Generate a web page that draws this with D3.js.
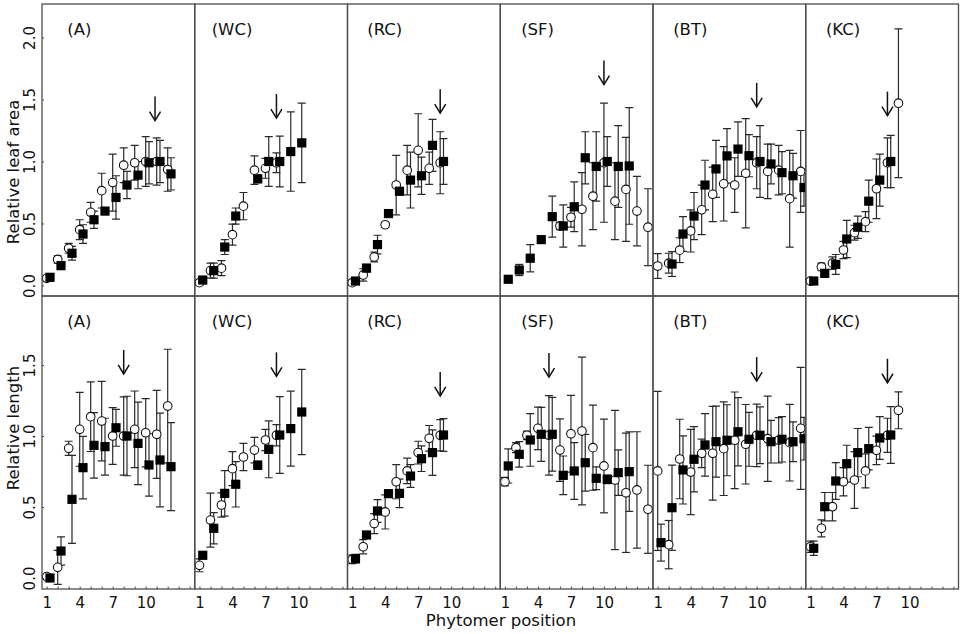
<!DOCTYPE html>
<html><head><meta charset="utf-8">
<script src="https://cdn.jsdelivr.net/npm/d3@7"></script>
<style>
body{margin:0;background:#fff}
svg{display:block;font-family:"DejaVu Sans",Verdana,sans-serif}
</style>
</head><body>
<svg id="chart" width="964" height="634"></svg>
<script>
// ---------- DATA ----------
const panelNames = ["(A)", "(WC)", "(RC)", "(SF)", "(BT)", "(KC)"];
const xTickLabels = [1, 4, 7, 10];
const xTickMarks = [1,2,3,4,5,6,7,8,9,10,11,12,13,14];
const areaTicks = [0, 0.5, 1.0, 1.5, 2.0];
const lengthTicks = [0, 0.5, 1.0, 1.5];
const areaTitle = "Relative leaf area";
const lengthTitle = "Relative length";
const xTitle = "Phytomer position";

// each entry: [phytomer position, mean, sd]
// --- relative leaf area (top row) ---
const areaA_open = [[1,0.058,0.02],[2,0.21,0.03],[3,0.30,0.04],[4,0.45,0.08],[5,0.59,0.08],[6,0.765,0.14],[7,0.83,0.23],[8,0.97,0.14],[9,0.99,0.14],[10,1.0,0.2],[11,1.0,0.19],[12,0.935,0.175]];
const areaA_fill = [[1,0.066,0.02],[2,0.16,0.03],[3,0.26,0.055],[4,0.415,0.075],[5,0.53,0.07],[6,0.60,0.02],[7,0.71,0.175],[8,0.81,0.11],[9,0.89,0.11],[10,0.99,0.17],[11,1.0,0.17],[12,0.90,0.13]];
const areaWC_open = [[1,0.023,0.02],[2,0.12,0.06],[3,0.14,0.06],[4,0.41,0.085],[5,0.64,0.11],[6,0.93,0.115],[7,0.945,0.08],[8,0.99,0.08]];
const areaWC_fill = [[1,0.044,0.02],[2,0.12,0.06],[3,0.31,0.06],[4,0.56,0.065],[6,0.86,0.03],[7,1.0,0.2],[8,1.0,0.205],[9,1.08,0.32],[10,1.15,0.32]];
const areaRC_open = [[1,0.023,0.02],[2,0.085,0.05],[3,0.23,0.04],[4,0.49,0.02],[5,0.81,0.24],[6,0.93,0.2],[7,1.09,0.295],[8,0.945,0.13],[9,0.99,0.25]];
const areaRC_fill = [[1,0.036,0.02],[2,0.14,0.03],[3,0.33,0.075],[4,0.58,0.02],[5,0.76,0.03],[6,0.85,0.225],[7,0.885,0.15],[8,1.13,0.21],[9,1.0,0.185]];
const areaSF_open = [[6,0.48,0.03],[7,0.55,0.08],[8,0.615,0.295],[9,0.72,0.27],[10,0.99,0.48],[11,0.68,0.31],[12,0.775,0.42],[13,0.60,0.28],[14,0.47,0.31]];
const areaSF_fill = [[1,0.05,0.01],[2,0.125,0.045],[3,0.22,0.11],[4,0.37,0.02],[5,0.555,0.165],[6,0.48,0.17],[7,0.635,0.2],[8,1.03,0.21],[9,0.96,0.28],[10,1.0,0.2],[11,0.96,0.33],[12,0.964,0.47]];
const areaBT_open = [[1,0.157,0.1],[2,0.18,0.08],[3,0.285,0.1],[4,0.44,0.17],[5,0.61,0.2],[6,0.735,0.22],[7,0.82,0.3],[8,0.81,0.22],[9,0.905,0.44],[10,0.99,0.21],[11,0.92,0.22],[12,0.93,0.2],[13,0.70,0.39],[14,0.92,0.33]];
const areaBT_fill = [[2,0.173,0.1],[3,0.415,0.14],[4,0.56,0.19],[5,0.81,0.2],[6,0.94,0.23],[7,1.045,0.22],[8,1.10,0.22],[9,1.047,0.17],[10,1.0,0.29],[11,0.98,0.16],[12,0.91,0.17],[13,0.885,0.18],[14,0.79,0.15]];
const areaKC_open = [[1,0.036,0.015],[2,0.15,0.03],[3,0.18,0.05],[4,0.286,0.07],[5,0.426,0.06],[6,0.515,0.08],[7,0.78,0.24],[8,0.99,0.2],[9,1.47,0.6]];
const areaKC_fill = [[1,0.036,0.015],[2,0.098,0.03],[3,0.17,0.08],[4,0.375,0.15],[5,0.47,0.09],[6,0.68,0.17],[7,0.85,0.21],[8,1.0,0.21]];
const areaArrowPos = [10.85, 8, 9, 10, 10, 8];
const areaArrowTip = [1.33, 1.35, 1.39, 1.62, 1.44, 1.37];

// --- relative length (bottom row) ---
const lenA_open = [[1,0.01,0.02],[2,0.075,0.12],[3,0.913,0.05],[4,1.047,0.26],[5,1.136,0.245],[6,1.105,0.28],[7,1.0,0.2],[8,1.0,0.275],[9,1.047,0.27],[10,1.023,0.24],[11,1.012,0.31],[12,1.211,0.4]];
const lenA_fill = [[1,0.0,0.02],[2,0.19,0.1],[3,0.554,0.31],[4,0.777,0.22],[5,0.934,0.23],[6,0.925,0.2],[7,1.058,0.13],[8,1.0,0.28],[9,0.948,0.29],[10,0.796,0.22],[11,0.831,0.33],[12,0.784,0.31]];
const lenWC_open = [[1,0.089,0.045],[2,0.408,0.19],[3,0.514,0.085],[4,0.77,0.12],[5,0.852,0.096],[6,0.901,0.09],[7,0.972,0.075],[8,1.005,0.075]];
const lenWC_fill = [[1,0.16,0.02],[2,0.35,0.11],[3,0.596,0.16],[4,0.66,0.16],[6,0.794,0.03],[7,0.906,0.2],[8,1.007,0.27],[9,1.052,0.264],[10,1.169,0.3]];
const lenRC_open = [[1,0.131,0.03],[2,0.22,0.05],[3,0.383,0.07],[4,0.465,0.12],[5,0.678,0.12],[6,0.754,0.09],[7,0.883,0.08],[8,0.984,0.09],[9,1.005,0.11]];
const lenRC_fill = [[1,0.136,0.03],[2,0.303,0.02],[3,0.472,0.08],[4,0.594,0.02],[5,0.596,0.1],[6,0.718,0.08],[7,0.84,0.09],[8,0.883,0.16],[9,1.007,0.115]];
const lenSF_open = [[1,0.678,0.03],[2,0.918,0.035],[3,1.005,0.03],[4,1.054,0.15],[5,1.005,0.28],[6,0.901,0.22],[7,1.016,0.27],[8,1.035,0.52],[9,0.918,0.3],[10,0.789,0.33],[11,0.69,0.49],[12,0.60,0.42],[13,0.62,0.41],[14,0.484,0.31]];
const lenSF_fill = [[1,0.789,0.12],[2,0.871,0.09],[3,0.972,0.185],[4,1.012,0.19],[5,1.012,0.26],[6,0.723,0.136],[7,0.754,0.2],[8,0.812,0.2],[9,0.702,0.08],[10,0.695,0.03],[11,0.742,0.16],[12,0.749,0.28]];
const lenBT_open = [[1,0.754,0.56],[2,0.235,0.17],[3,0.838,0.28],[4,0.746,0.3],[5,0.878,0.1],[6,0.878,0.33],[7,0.911,0.33],[8,0.97,0.34],[9,0.942,0.28],[10,1.005,0.22],[11,0.981,0.3],[12,0.97,0.16],[13,0.953,0.27],[14,1.054,0.43]];
const lenBT_fill = [[1,0.249,0.13],[2,0.495,0.3],[3,0.761,0.24],[4,0.836,0.23],[5,0.937,0.22],[6,0.96,0.25],[7,0.97,0.25],[8,1.03,0.24],[9,0.977,0.19],[10,1.005,0.2],[11,0.96,0.15],[12,0.977,0.16],[13,0.96,0.14],[14,0.981,0.15]];
const lenKC_open = [[1,0.22,0.04],[2,0.35,0.06],[3,0.502,0.1],[4,0.678,0.1],[5,0.69,0.2],[6,0.754,0.12],[7,0.899,0.1],[8,1.005,0.12],[9,1.181,0.13]];
const lenKC_fill = [[1,0.209,0.05],[2,0.502,0.1],[3,0.683,0.13],[4,0.805,0.13],[5,0.883,0.17],[6,0.911,0.15],[7,0.986,0.15],[8,1.007,0.2]];
const lenArrowPos = [8, 8, 9, 5, 10, 8];
const lenArrowTip = [1.437, 1.42, 1.282, 1.415, 1.387, 1.375];

// ---------- LAYOUT ----------
const svg = d3.select("#chart");
const plotL = 42, plotR = 958.5;
const pw = (plotR - plotL) / 6;
const ink = "#111";
const frame = "#4d4d4d";
const sqOffset = 0.3;

const rows = [
  { open: [areaA_open, areaWC_open, areaRC_open, areaSF_open, areaBT_open, areaKC_open],
    fill: [areaA_fill, areaWC_fill, areaRC_fill, areaSF_fill, areaBT_fill, areaKC_fill],
    arrowPos: areaArrowPos, arrowTip: areaArrowTip, ticks: areaTicks, title: areaTitle,
    y: d3.scaleLinear().domain([-0.0847, 2.27]).range([296, 4]), top: 4, bottom: 296, titleY: 172, xAxis: false },
  { open: [lenA_open, lenWC_open, lenRC_open, lenSF_open, lenBT_open, lenKC_open],
    fill: [lenA_fill, lenWC_fill, lenRC_fill, lenSF_fill, lenBT_fill, lenKC_fill],
    arrowPos: lenArrowPos, arrowTip: lenArrowTip, ticks: lengthTicks, title: lengthTitle,
    y: d3.scaleLinear().domain([-0.0775, 1.986]).range([589, 296]), top: 296, bottom: 589, titleY: 428, xAxis: true }
];

const defs = svg.append("defs");

rows.forEach((row, ri) => {
  const y = row.y;
  panelNames.forEach((name, pi) => {
    const x0 = plotL + pi * pw, x1 = x0 + pw;
    const x = d3.scaleLinear().domain([0.573, 14.46]).range([x0, x1]);
    const cid = `clip-${ri}-${pi}`;
    defs.append("clipPath").attr("id", cid)
      .append("rect").attr("x", x0).attr("y", row.top).attr("width", pw).attr("height", row.bottom - row.top);
    const g = svg.append("g").attr("clip-path", `url(#${cid})`);

    const series = [
      { data: row.open[pi], off: 0 },
      { data: row.fill[pi], off: sqOffset }
    ];
    // error bars
    series.forEach(s => {
      const eb = g.append("g").attr("stroke", "#2a2a2a").attr("stroke-width", 1.2).attr("fill", "none");
      s.data.forEach(d => {
        const cx = x(d[0] + s.off);
        const yt = y(d[1] + d[2]), yb = y(d[1] - d[2]);
        eb.append("line").attr("x1", cx).attr("x2", cx).attr("y1", yt).attr("y2", yb);
        eb.append("line").attr("x1", cx - 4).attr("x2", cx + 4).attr("y1", yt).attr("y2", yt);
        eb.append("line").attr("x1", cx - 4).attr("x2", cx + 4).attr("y1", yb).attr("y2", yb);
      });
    });
    // open circles
    g.append("g").selectAll("circle").data(row.open[pi]).join("circle")
      .attr("cx", d => x(d[0])).attr("cy", d => y(d[1])).attr("r", 4.3)
      .attr("fill", "#fff").attr("stroke", "#111").attr("stroke-width", 1.1);
    // filled squares
    g.append("g").selectAll("rect").data(row.fill[pi]).join("rect")
      .attr("x", d => x(d[0] + sqOffset) - 4.6).attr("y", d => y(d[1]) - 4.6)
      .attr("width", 9.2).attr("height", 9.2).attr("fill", "#000");

    // arrow
    const ax = x(row.arrowPos[pi]), ay = y(row.arrowTip[pi]);
    svg.append("line").attr("x1", ax).attr("x2", ax).attr("y1", ay - 24).attr("y2", ay)
      .attr("stroke", ink).attr("stroke-width", 1.5);
    svg.append("path").attr("d", `M${ax - 5.5},${ay - 9}L${ax},${ay}L${ax + 5.5},${ay - 9}`)
      .attr("fill", "none").attr("stroke", ink).attr("stroke-width", 1.5);

    // panel label
    svg.append("text").attr("x", x0 + 37.3).attr("y", row.top + 25).attr("dy", "0.35em")
      .attr("text-anchor", "middle").attr("font-size", 16.5).attr("fill", ink).text(name);

    // x axis (bottom row)
    if (row.xAxis) {
      const ax = svg.append("g").attr("transform", `translate(0,${row.bottom})`)
        .call(d3.axisBottom(x).tickValues(xTickMarks).tickSizeInner(-2.5).tickSizeOuter(0).tickPadding(8)
          .tickFormat(d => xTickLabels.includes(d) ? d : ""));
      ax.select(".domain").remove();
      ax.selectAll("line").attr("stroke", frame);
      ax.selectAll("text").attr("font-size", 15).attr("fill", ink).attr("font-family", "DejaVu Sans, Verdana, sans-serif");
    }

    // panel frame
    svg.append("rect").attr("x", x0).attr("y", row.top).attr("width", pw).attr("height", row.bottom - row.top)
      .attr("fill", "none").attr("stroke", frame).attr("stroke-width", 1.3);
  });

  // y axis
  const yax = svg.append("g").attr("transform", `translate(${plotL},0)`)
    .call(d3.axisLeft(y).tickValues(row.ticks).tickSizeInner(-2).tickSizeOuter(0).tickFormat(d3.format(".1f")));
  yax.select(".domain").remove();
  yax.selectAll("line").attr("stroke", frame);
  yax.selectAll("text").attr("transform", "rotate(-90)").attr("x", 0).attr("y", -12).attr("dy", "0.36em")
    .attr("text-anchor", "middle").attr("font-size", 15).attr("fill", ink)
    .attr("font-family", "DejaVu Sans, Verdana, sans-serif");

  // y title
  svg.append("text").attr("transform", `translate(13.5,${row.titleY}) rotate(-90)`).attr("dy", "0.36em")
    .attr("text-anchor", "middle").attr("font-size", 16.5).attr("fill", ink).text(row.title);
});

// x title
svg.append("text").attr("x", 501).attr("y", 626).attr("text-anchor", "middle")
  .attr("font-size", 16.5).attr("fill", ink).text(xTitle);
</script>
</body></html>
